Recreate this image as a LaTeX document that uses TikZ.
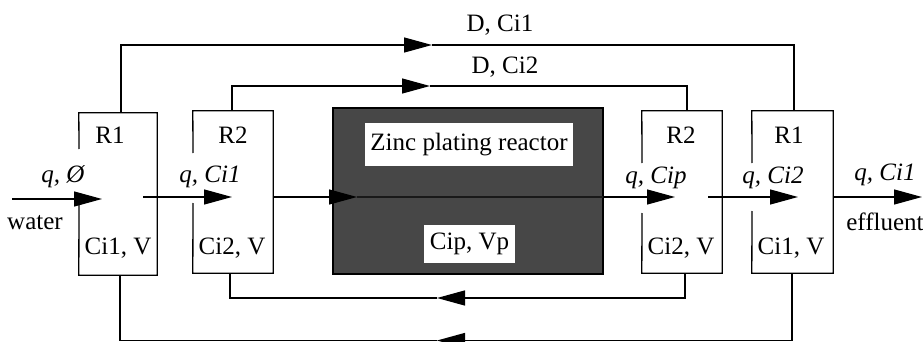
\documentclass[tikz,border=0pt]{standalone}
\usepackage{fontspec}
\setmainfont{Liberation Serif}
\usetikzlibrary{arrows.meta,calc}
\tikzset{
  line/.style={line width=1.3pt},
  flow/.style={line, -{Triangle[length=28pt,width=15pt]}},
  tank/.style={draw=none, inner sep=0pt},
  lbl/.style={inner sep=1pt, font=\fontsize{25}{28}\selectfont},
  ilbl/.style={lbl, font=\fontsize{25}{28}\selectfont\itshape},
  wbox/.style={lbl, fill=white, inner sep=0pt}
}
\begin{document}
\begin{tikzpicture}[x=1pt,y=-1pt]
\useasboundingbox (0,0) rectangle (923,342);
% tanks (named, outlines drawn below)
\node[tank, minimum width=78pt, minimum height=162pt] (r1l) at (118,194) {};
\node[tank, minimum width=80pt, minimum height=162pt] (r2l) at (233,192) {};
\node[tank, minimum width=80pt, minimum height=162pt] (r2r) at (682,192) {};
\node[tank, minimum width=81pt, minimum height=162pt] (r1r) at (792.5,192) {};
% reactor
\node[draw=black, line width=1.3pt, fill=black!72, minimum width=270pt, minimum height=166pt, inner sep=0pt] (reac) at (468,191) {};
\draw[black!90, line width=1.3pt] (357,197) -- (603,197);
\node[wbox, minimum width=208pt, minimum height=43pt] (zinc) at (469,144.5) {Zinc plating reactor};
\node[wbox, minimum width=91pt, minimum height=38pt] (cipvp) at (469.5,244) {Cip, Vp};
% tank outlines with gap on left side
\draw[line] (79,149) -- (r1l.north west) -- (r1l.north east) -- (r1l.south east) -- (r1l.south west) -- (79,202);
\draw[line] (193,153) -- (r2l.north west) -- (r2l.north east) -- (r2l.south east) -- (r2l.south west) -- (193,203);
\draw[line] (642,163) -- (r2r.north west) -- (r2r.north east) -- (r2r.south east) -- (r2r.south west) -- (642,213);
\draw[line] (752,163) -- (r1r.north west) -- (r1r.north east) -- (r1r.south east) -- (r1r.south west) -- (752,211);
% tank labels
\node[lbl] (t1) at (110,135) {R1};
\node[lbl] (t2) at (118,248) {Ci1, V};
\node[lbl] (t3) at (233,135) {R2};
\node[lbl] (t4) at (232,248) {Ci2, V};
\node[lbl] (t5) at (681,135) {R2};
\node[lbl] (t6) at (681,248) {Ci2, V};
\node[lbl] (t7) at (789,135) {R1};
\node[lbl] (t8) at (791,248) {Ci1, V};
% main flow coordinates
\coordinate (win) at (12,199);
\coordinate (w1) at (102,199);
\coordinate (s1) at (143,197);
\coordinate (w2) at (232,197);
\coordinate (s2) at (273,197);
\coordinate (w3) at (357,197);
\coordinate (s3) at (603,197);
\coordinate (w4) at (675,197);
\coordinate (s4) at (708,197);
\coordinate (w5) at (798,197);
\coordinate (s5) at (833,197);
\coordinate (wout) at (922,197);
\draw[flow] (win) -- (w1);
\draw[flow] (s1) -- (w2);
\draw[flow] (s2) -- (w3);
\draw[flow] (s3) -- (w4);
\draw[flow] (s4) -- (w5);
\draw[flow] (s5) -- (wout);
% flow labels
\node[ilbl] (l1) at (63,177) {q,~Ø};
\node[lbl] (l2) at (35,223) {water};
\node[ilbl] (l3) at (210,177) {q, Ci1};
\node[ilbl] (l4) at (656,178) {q, Cip};
\node[ilbl] (l5) at (773,178) {q, Ci2};
\node[ilbl] (l6) at (885,175) {q, Ci1};
\node[lbl] (l7) at (885,222) {effluent};
% recycle loops
\coordinate (a1) at (121,113);
\coordinate (m1) at (432,45);
\coordinate (b1) at (794,111);
\draw[flow] (a1) |- (m1);
\draw[line] (m1) -| (b1);
\node[lbl] (d1) at (500,25) {D, Ci1};
\coordinate (a2) at (232,111);
\coordinate (m2) at (430,86);
\coordinate (b2) at (687,111);
\draw[flow] (a2) |- (m2);
\draw[line] (m2) -| (b2);
\node[lbl] (d2) at (505,67) {D, Ci2};
\coordinate (a3) at (685,273);
\coordinate (m3) at (437,298);
\coordinate (b3) at (230,273);
\draw[flow] (a3) |- (m3);
\draw[line] (m3) -| (b3);
\coordinate (a4) at (792,273);
\coordinate (m4) at (437,340.5);
\coordinate (b4) at (120,275);
\draw[flow] (a4) |- (m4);
\draw[line] (m4) -| (b4);
\end{tikzpicture}
\end{document}
